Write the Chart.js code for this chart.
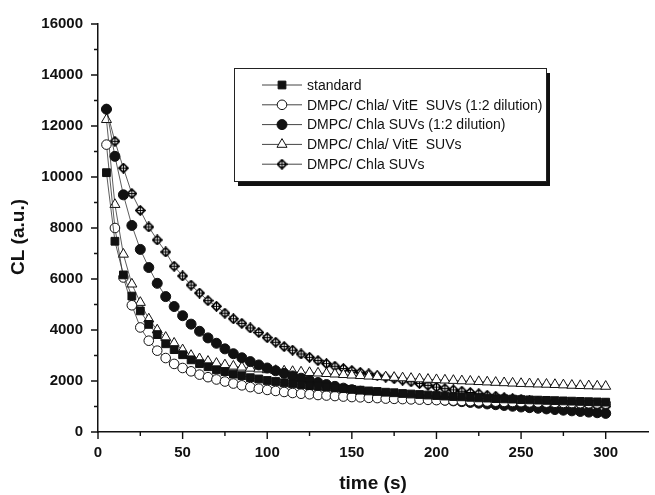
<!DOCTYPE html>
<html>
<head>
<meta charset="utf-8">
<script src="https://cdn.jsdelivr.net/npm/chart.js@4.4.0/dist/chart.umd.min.js"></script>
<style>
  html, body { margin: 0; padding: 0; background: #fff; }
  #wrap { width: 655px; height: 495px; }
</style>
</head>
<body>
<div id="wrap"><canvas id="chart" width="655" height="495"></canvas></div>
<script>
// time points (s)
const times = [5, 10, 15, 20, 25, 30, 35, 40, 45, 50, 55, 60, 65, 70, 75, 80, 85, 90, 95, 100,
  105, 110, 115, 120, 125, 130, 135, 140, 145, 150, 155, 160, 165, 170, 175, 180, 185, 190, 195, 200,
  205, 210, 215, 220, 225, 230, 235, 240, 245, 250, 255, 260, 265, 270, 275, 280, 285, 290, 295, 300];

// CL values
const standard = [10170, 7480, 6160, 5330, 4750, 4220, 3820, 3460, 3230, 3030, 2830, 2680, 2560, 2440, 2370, 2270, 2210, 2130, 2080, 2020,
  1980, 1930, 1890, 1860, 1820, 1790, 1760, 1730, 1700, 1670, 1640, 1610, 1590, 1560, 1540, 1510, 1490, 1470, 1450, 1430,
  1410, 1390, 1380, 1360, 1340, 1330, 1310, 1300, 1290, 1270, 1260, 1250, 1240, 1230, 1220, 1210, 1200, 1190, 1180, 1170];
const vitEDiluted = [11270, 8000, 6060, 4970, 4100, 3580, 3190, 2900, 2670, 2510, 2380, 2250, 2150, 2060, 1980, 1900, 1830, 1760, 1700, 1650,
  1610, 1570, 1530, 1500, 1480, 1450, 1430, 1410, 1390, 1370, 1360, 1340, 1330, 1310, 1300, 1290, 1280, 1270, 1260, 1250,
  1240, 1230, 1220, 1210, 1200, 1195, 1190, 1180, 1175, 1170, 1160, 1155, 1150, 1145, 1140, 1135, 1130, 1125, 1120, 1115];
const chlaDiluted = [12660, 10810, 9300, 8100, 7160, 6450, 5830, 5310, 4920, 4560, 4230, 3950, 3690, 3480, 3260, 3070, 2910, 2760, 2630, 2510,
  2400, 2300, 2200, 2110, 2020, 1940, 1860, 1790, 1720, 1660, 1600, 1550, 1500, 1460, 1420, 1390, 1360, 1330, 1300, 1280,
  1250, 1220, 1190, 1160, 1130, 1100, 1070, 1040, 1010, 980, 955, 930, 905, 880, 855, 830, 805, 780, 755, 730];
const vitE = [12250, 8920, 6970, 5800, 5080, 4430, 4000, 3710, 3480, 3220, 3000, 2870, 2770, 2690, 2630, 2580, 2540, 2500, 2470, 2440,
  2410, 2390, 2370, 2350, 2330, 2310, 2290, 2270, 2250, 2230, 2210, 2190, 2175, 2160, 2140, 2120, 2100, 2080, 2065, 2050,
  2035, 2020, 2005, 1990, 1975, 1960, 1945, 1930, 1915, 1900, 1890, 1880, 1870, 1860, 1845, 1830, 1820, 1810, 1800, 1790];
const chla = [12650, 11400, 10350, 9350, 8690, 8040, 7530, 7060, 6500, 6120, 5760, 5450, 5150, 4930, 4660, 4440, 4260, 4080, 3900, 3700,
  3520, 3350, 3210, 3060, 2930, 2800, 2680, 2580, 2490, 2410, 2340, 2280, 2210, 2150, 2090, 2030, 1970, 1900, 1830, 1760,
  1700, 1650, 1600, 1550, 1500, 1440, 1400, 1350, 1310, 1280, 1240, 1210, 1180, 1150, 1110, 1085, 1060, 1035, 1015, 1005];

const seriesNames = ["standard", "DMPC/ Chla/ VitE  SUVs (1:2 dilution)", "DMPC/ Chla SUVs (1:2 dilution)",
  "DMPC/ Chla/ VitE  SUVs", "DMPC/ Chla SUVs"];

// axis ticks
const xTickValues = [0, 50, 100, 150, 200, 250, 300];
const xMinorValues = [25, 75, 125, 175, 225, 275];
const yTickValues = [0, 2000, 4000, 6000, 8000, 10000, 12000, 14000, 16000];
const yMinorValues = [1000, 3000, 5000, 7000, 9000, 11000, 13000, 15000];

// diamond with a crossed circle inside
function crossDiamond(size) {
  const c = document.createElement("canvas");
  c.width = c.height = size;
  const g = c.getContext("2d");
  const h = size / 2;
  g.strokeStyle = "#000";
  g.lineWidth = 1.1;
  g.beginPath();
  g.moveTo(h, 0.6); g.lineTo(size - 0.6, h); g.lineTo(h, size - 0.6); g.lineTo(0.6, h);
  g.closePath();
  g.fillStyle = "#fff";
  g.fill();
  g.stroke();
  g.beginPath();
  g.arc(h, h, h * 0.55, 0, Math.PI * 2);
  g.stroke();
  g.lineWidth = 1;
  g.beginPath();
  g.moveTo(h, 1); g.lineTo(h, size - 1);
  g.moveTo(1, h); g.lineTo(size - 1, h);
  g.stroke();
  return c;
}
const diamondImg = crossDiamond(11);

const toPoints = arr => times.map((t, i) => ({ x: t, y: arr[i] }));

const styles = [
  { data: standard, pointStyle: "rect", pointRadius: 5.5, fill: "#111" },
  { data: vitEDiluted, pointStyle: "circle", pointRadius: 4.8, fill: "#fff" },
  { data: chlaDiluted, pointStyle: "circle", pointRadius: 5, fill: "#111" },
  { data: vitE, pointStyle: "triangle", pointRadius: 5.8, fill: "#fff" },
  { data: chla, pointStyle: diamondImg, pointRadius: 6, fill: "#fff" }
];

const datasets = styles.map((s, i) => ({
  label: seriesNames[i],
  data: toPoints(s.data),
  borderColor: "#333",
  borderWidth: 0.8,
  pointStyle: s.pointStyle,
  pointRadius: s.pointRadius,
  pointBackgroundColor: s.fill,
  pointBorderColor: "#111",
  pointBorderWidth: 1,
  tension: 0
}));

// legend box with drop shadow
const boxLegend = {
  id: "boxLegend",
  afterDraw(chart) {
    const ctx = chart.ctx;
    const bx = 234, by = 68, bw = 312, bh = 113;
    ctx.save();
    ctx.fillStyle = "#111";
    ctx.fillRect(bx + 4, by + 5, bw, bh);
    ctx.fillStyle = "#fff";
    ctx.fillRect(bx, by, bw, bh);
    ctx.strokeStyle = "#222";
    ctx.lineWidth = 1;
    ctx.strokeRect(bx + 0.5, by + 0.5, bw, bh);
    ctx.font = "14px 'Liberation Sans', Arial, sans-serif";
    ctx.textBaseline = "middle";
    styles.forEach((s, i) => {
      const y = 85 + i * 19.8;
      ctx.strokeStyle = "#444";
      ctx.lineWidth = 1;
      ctx.beginPath();
      ctx.moveTo(262, y);
      ctx.lineTo(302, y);
      ctx.stroke();
      ctx.fillStyle = s.fill;
      ctx.strokeStyle = "#111";
      Chart.helpers.drawPoint(ctx, { pointStyle: s.pointStyle, radius: s.pointRadius, rotation: 0, borderWidth: 1 }, 282, y);
      ctx.fillStyle = "#111";
      ctx.fillText(seriesNames[i], 307, y + 1);
    });
    ctx.restore();
  }
};

// outward ticks and axis titles
const axisMarks = {
  id: "axisMarks",
  afterDraw(chart) {
    const { ctx, chartArea } = chart;
    const xs = chart.scales.x, ys = chart.scales.y;
    ctx.save();
    ctx.strokeStyle = "#111";
    ctx.lineWidth = 1.4;
    ctx.beginPath();
    xTickValues.forEach(v => { const p = xs.getPixelForValue(v); ctx.moveTo(p, chartArea.bottom); ctx.lineTo(p, chartArea.bottom + 7); });
    xMinorValues.forEach(v => { const p = xs.getPixelForValue(v); ctx.moveTo(p, chartArea.bottom); ctx.lineTo(p, chartArea.bottom + 4); });
    yTickValues.forEach(v => { const p = ys.getPixelForValue(v); ctx.moveTo(chartArea.left, p); ctx.lineTo(chartArea.left - 7, p); });
    yMinorValues.forEach(v => { const p = ys.getPixelForValue(v); ctx.moveTo(chartArea.left, p); ctx.lineTo(chartArea.left - 4, p); });
    ctx.stroke();
    ctx.fillStyle = "#111";
    ctx.font = "bold 19px 'Liberation Sans', Arial, sans-serif";
    ctx.textAlign = "center";
    ctx.textBaseline = "middle";
    ctx.fillText("time (s)", (chartArea.left + chartArea.right) / 2, 484);
    ctx.translate(19, 237);
    ctx.rotate(-Math.PI / 2);
    ctx.fillText("CL (a.u.)", 0, 0);
    ctx.restore();
  }
};

const tickFont = { family: "'Liberation Sans', Arial, sans-serif", size: 15, weight: "bold" };

new Chart(document.getElementById("chart"), {
  type: "line",
  data: { datasets },
  options: {
    responsive: false,
    animation: false,
    devicePixelRatio: 1,
    layout: { padding: { top: 22, right: 2, left: 0, bottom: 0 } },
    plugins: { legend: { display: false }, tooltip: { enabled: false } },
    scales: {
      x: {
        type: "linear",
        min: 0,
        max: 325,
        afterBuildTicks: s => { s.ticks = xTickValues.map(v => ({ value: v })); },
        afterFit: s => { s.height = 63; },
        grid: { display: false, drawTicks: false },
        border: { display: true, color: "#111", width: 1.5 },
        ticks: { padding: 12, color: "#111", maxRotation: 0, autoSkip: false, font: tickFont,
          callback: v => String(v) }
      },
      y: {
        type: "linear",
        min: 0,
        max: 16000,
        afterBuildTicks: s => { s.ticks = yTickValues.map(v => ({ value: v })); },
        afterFit: s => { s.width = 98; },
        grid: { display: false, drawTicks: false },
        border: { display: true, color: "#111", width: 1.5 },
        ticks: { padding: 15, color: "#111", autoSkip: false, font: tickFont,
          callback: v => String(v) }
      }
    }
  },
  plugins: [axisMarks, boxLegend]
});
</script>
</body>
</html>
